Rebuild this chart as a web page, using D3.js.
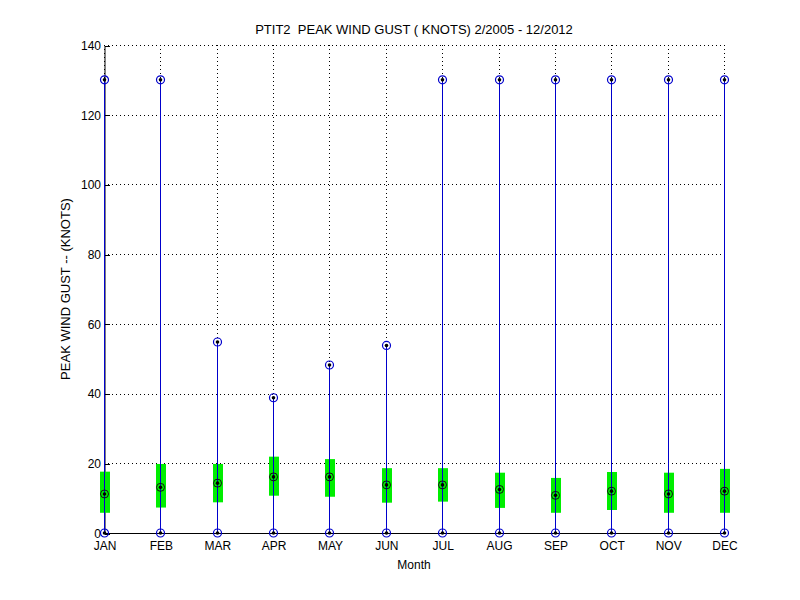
<!DOCTYPE html>
<html>
<head>
<meta charset="utf-8">
<script src="https://cdn.jsdelivr.net/npm/d3@7"></script>
<style>
  body { margin: 0; background: #fff; }
  text { font-family: Arial, "Liberation Sans", sans-serif; white-space: pre; }
  line { shape-rendering: crispEdges; }
</style>
</head>
<body>
<script>
// Monthly peak wind gust stats (knots)
const months = ['JAN', 'FEB', 'MAR', 'APR', 'MAY', 'JUN', 'JUL', 'AUG', 'SEP', 'OCT', 'NOV', 'DEC'];
const minVals = [0, 0, 0, 0, 0, 0, 0, 0, 0, 0, 0, 0];
const maxVals = [130, 130, 54.8, 38.8, 48.2, 53.8, 130, 130, 130, 130, 130, 130];
const meanVals = [11.2, 13.1, 14.3, 16.1, 16.1, 13.8, 13.8, 12.5, 10.8, 12.0, 11.2, 12.0];
const upperVals = [17.6, 19.8, 19.8, 21.9, 21.2, 18.6, 18.6, 17.3, 15.8, 17.5, 17.3, 18.4];
const lowerVals = [5.8, 7.3, 8.8, 10.7, 10.4, 8.7, 9.0, 7.2, 5.8, 6.6, 5.8, 5.8];
const yTicks = [0, 20, 40, 60, 80, 100, 120, 140];

const data = months.map((m, i) => ({
  month: m, idx: i + 1,
  min: minVals[i], max: maxVals[i], mean: meanVals[i],
  lo: lowerVals[i], hi: upperVals[i]
}));

const margin = { top: 45, right: 76, bottom: 67, left: 104 };
const width = 800 - margin.left - margin.right;
const height = 600 - margin.top - margin.bottom;

const svg = d3.select('body').append('svg')
  .attr('width', 800)
  .attr('height', 600);

const g = svg.append('g')
  .attr('transform', 'translate(' + margin.left + ',' + margin.top + ')');

const x = d3.scaleLinear().domain([1, 12]).range([0, width]);
const y = d3.scaleLinear().domain([0, 140]).range([height, 0]);
// snap to pixel centres so 1px lines stay crisp
const px = v => Math.round(x(v)) + 0.5;
const py = v => Math.round(y(v)) + 0.5;

// dotted grid (vertical ones stop at the whisker top, the whisker covers the rest)
g.selectAll('.vgrid')
  .data(data)
  .enter().append('line')
  .attr('x1', d => px(d.idx)).attr('x2', d => px(d.idx))
  .attr('y1', 0).attr('y2', d => y(d.max))
  .attr('stroke', '#000').attr('stroke-width', 1)
  .attr('stroke-dasharray', '1,3');

g.selectAll('.hgrid')
  .data(yTicks)
  .enter().append('line')
  .attr('x1', 0).attr('x2', width)
  .attr('y1', d => py(d)).attr('y2', d => py(d))
  .attr('stroke', '#000').attr('stroke-width', 1)
  .attr('stroke-dasharray', '1,3');

// axes
const yAxis = g.append('g')
  .attr('transform', 'translate(0.5,0.5)')
  .call(d3.axisLeft(y).tickValues(yTicks).tickSizeInner(-5).tickSizeOuter(0).tickPadding(4));
yAxis.select('.domain').attr('stroke', '#000');
yAxis.selectAll('text').attr('font-size', 12).attr('dx', '0.5');

const xAxis = g.append('g')
  .attr('transform', 'translate(0.5,' + (height + 0.5) + ')')
  .call(d3.axisBottom(x).tickValues(d3.range(1, 13)).tickFormat(d => months[d - 1])
    .tickSizeInner(0).tickSizeOuter(0).tickPadding(8));
xAxis.select('.domain').remove();
xAxis.selectAll('text').attr('font-size', 12).attr('dy', '0.71em');

// std bands
g.selectAll('.band')
  .data(data)
  .enter().append('rect')
  .attr('x', d => Math.round(x(d.idx)) - 4)
  .attr('width', 10)
  .attr('y', d => y(d.hi))
  .attr('height', d => y(d.lo) - y(d.hi))
  .attr('fill', '#00ee00');

// whiskers
g.selectAll('.whisker')
  .data(data)
  .enter().append('line')
  .attr('x1', d => px(d.idx)).attr('x2', d => px(d.idx))
  .attr('y1', d => y(d.min)).attr('y2', d => y(d.max))
  .attr('stroke', '#0000cc').attr('stroke-width', 1);

// bottom axis line
g.append('line')
  .attr('x1', 0).attr('x2', width + 1)
  .attr('y1', height + 0.5).attr('y2', height + 0.5)
  .attr('stroke', '#000');

// min / max markers
const ends = data.flatMap(d => [{ idx: d.idx, v: d.min }, { idx: d.idx, v: d.max }]);
g.selectAll('.endc')
  .data(ends)
  .enter().append('circle')
  .attr('cx', d => px(d.idx)).attr('cy', d => y(d.v))
  .attr('r', 4)
  .attr('fill', 'none').attr('stroke', '#0000cc').attr('stroke-width', 1.2);
g.selectAll('.endd')
  .data(ends)
  .enter().append('circle')
  .attr('cx', d => px(d.idx)).attr('cy', d => y(d.v))
  .attr('r', 1.8)
  .attr('fill', '#000');

// mean markers
g.selectAll('.meanc')
  .data(data)
  .enter().append('circle')
  .attr('cx', d => px(d.idx)).attr('cy', d => y(d.mean))
  .attr('r', 4)
  .attr('fill', 'none').attr('stroke', '#111').attr('stroke-width', 1);
g.selectAll('.meand')
  .data(data)
  .enter().append('circle')
  .attr('cx', d => px(d.idx)).attr('cy', d => y(d.mean))
  .attr('r', 1.8)
  .attr('fill', '#000');

// labels
svg.append('text')
  .attr('x', margin.left + width / 2)
  .attr('y', 34)
  .attr('text-anchor', 'middle')
  .attr('font-size', 13)
  .text('PTIT2  PEAK WIND GUST ( KNOTS) 2/2005 - 12/2012');

svg.append('text')
  .attr('x', margin.left + width / 2)
  .attr('y', 569)
  .attr('text-anchor', 'middle')
  .attr('font-size', 12)
  .text('Month');

svg.append('text')
  .attr('transform', 'translate(70,' + (margin.top + height / 2) + ') rotate(-90)')
  .attr('text-anchor', 'middle')
  .attr('font-size', 13)
  .text('PEAK WIND GUST -- (KNOTS)');
</script>
</body>
</html>
